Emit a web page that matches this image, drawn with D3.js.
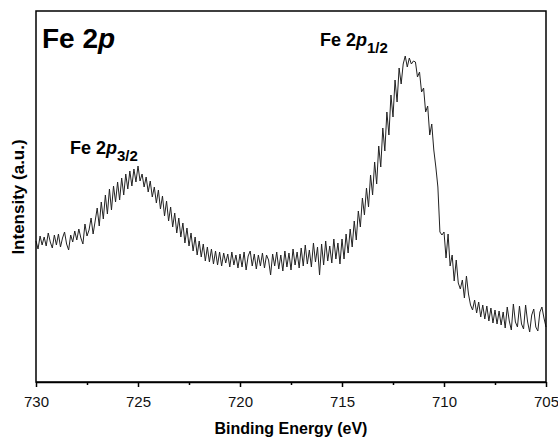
<!DOCTYPE html>
<html><head><meta charset="utf-8">
<script src="https://cdn.jsdelivr.net/npm/d3@7/dist/d3.min.js"></script>
<style>body{margin:0;background:#fff}svg{display:block;font-family:"Liberation Sans",Arial,sans-serif}</style>
</head><body>
<script>
const energies = [
730.0,729.9,729.8,729.7,729.6,729.5,729.4,729.3,729.2,729.1,
729.0,728.9,728.8,728.7,728.6,728.5,728.4,728.3,728.2,728.1,
728.0,727.9,727.8,727.7,727.6,727.5,727.4,727.3,727.2,727.1,
727.0,726.9,726.8,726.7,726.6,726.5,726.4,726.3,726.2,726.1,
726.0,725.9,725.8,725.7,725.6,725.5,725.4,725.3,725.2,725.1,
725.0,724.9,724.8,724.7,724.6,724.5,724.4,724.3,724.2,724.1,
724.0,723.9,723.8,723.7,723.6,723.5,723.4,723.3,723.2,723.1,
723.0,722.9,722.8,722.7,722.6,722.5,722.4,722.3,722.2,722.1,
722.0,721.9,721.8,721.7,721.6,721.5,721.4,721.3,721.2,721.1,
721.0,720.9,720.8,720.7,720.6,720.5,720.4,720.3,720.2,720.1,
720.0,719.9,719.8,719.7,719.6,719.5,719.4,719.3,719.2,719.1,
719.0,718.9,718.8,718.7,718.6,718.5,718.4,718.3,718.2,718.1,
718.0,717.9,717.8,717.7,717.6,717.5,717.4,717.3,717.2,717.1,
717.0,716.9,716.8,716.7,716.6,716.5,716.4,716.3,716.2,716.1,
716.0,715.9,715.8,715.7,715.6,715.5,715.4,715.3,715.2,715.1,
715.0,714.9,714.8,714.7,714.6,714.5,714.4,714.3,714.2,714.1,
714.0,713.9,713.8,713.7,713.6,713.5,713.4,713.3,713.2,713.1,
713.0,712.9,712.8,712.7,712.6,712.5,712.4,712.3,712.2,712.1,
712.0,711.9,711.8,711.7,711.6,711.5,711.4,711.3,711.2,711.1,
711.0,710.9,710.8,710.7,710.6,710.5,710.4,710.3,710.2,710.1,
710.0,709.9,709.8,709.7,709.6,709.5,709.4,709.3,709.2,709.1,
709.0,708.9,708.8,708.7,708.6,708.5,708.4,708.3,708.2,708.1,
708.0,707.9,707.8,707.7,707.6,707.5,707.4,707.3,707.2,707.1,
707.0,706.9,706.8,706.7,706.6,706.5,706.4,706.3,706.2,706.1,
706.0,705.9,705.8,705.7,705.6,705.5,705.4,705.3,705.2,705.1,
705.0];
const intensity = [
141,133,146,137,145,136,149,140,134,147,
137,148,135,144,150,138,132,147,140,151,
142,153,144,138,158,146,152,164,148,161,
174,156,180,163,187,168,193,172,196,180,
200,182,204,187,208,193,211,196,213,200,
216,201,208,195,205,190,201,185,195,179,
192,173,186,166,181,161,175,155,169,149,
164,145,159,139,154,136,149,131,145,127,
141,125,138,121,135,120,133,118,131,117,
130,116,129,119,128,115,130,117,127,114,
128,115,130,112,126,131,116,128,113,127,
116,129,114,127,122,107,128,116,130,113,
127,111,131,115,129,112,133,117,130,114,
134,116,137,118,132,115,139,120,135,107,
138,117,141,121,136,119,143,123,139,118,
143,123,148,129,153,135,161,142,171,155,
184,167,194,175,207,187,220,198,236,215,
254,231,270,247,287,265,302,280,314,298,
318,326,315,324,318,321,320,305,310,290,
294,270,276,247,258,232,215,195,150,147,
150,124,148,116,127,101,122,99,93,102,
84,106,88,77,72,82,69,80,65,77,
63,76,61,74,59,72,58,71,57,70,
54,75,61,52,78,60,55,76,58,53,
77,60,50,67,73,55,51,70,75,64,
55];
const xTicks = [730,725,720,715,710,705];
const xMinor = [727.5,722.5,717.5,712.5,707.5];

const W = 558, H = 437;
const m = {l:36, r:12, t:11, b:55};
const svg = d3.select("body").append("svg").attr("width",W).attr("height",H);
const x = d3.scaleLinear().domain([730,705]).range([m.l, W-m.r]);
const y = d3.scaleLinear().domain([0,371]).range([H-m.b, m.t]);
const data = energies.map((e,i)=>({e, v:intensity[i]}));

svg.append("path").datum(data)
  .attr("fill","none").attr("stroke","#222").attr("stroke-width",1)
  .attr("stroke-linejoin","round")
  .attr("d", d3.line().x(d=>x(d.e)).y(d=>y(d.v)));

svg.append("rect").attr("x",m.l).attr("y",m.t).attr("width",W-m.r-m.l).attr("height",H-m.b-m.t)
  .attr("fill","none").attr("stroke","#000").attr("stroke-width",1.5);

const gx = svg.append("g").attr("transform",`translate(0,${H-m.b})`);
gx.call(d3.axisBottom(x).tickValues(xTicks).tickSize(5).tickSizeOuter(0).tickFormat(d3.format("d")));
gx.select(".domain").attr("stroke-width",1.5);
gx.selectAll(".tick line").attr("stroke-width",1.5);
gx.selectAll("text").attr("font-size",15).attr("fill","#111").attr("y",10).attr("dy","1.0em");
const gm = svg.append("g").attr("transform",`translate(0,${H-m.b})`);
gm.call(d3.axisBottom(x).tickValues(xMinor).tickSize(3).tickFormat(""));
gm.select(".domain").remove();
gm.selectAll(".tick line").attr("stroke-width",1.5);

svg.append("text").attr("x",(m.l+W-m.r)/2).attr("y",434).attr("text-anchor","middle")
  .attr("font-size",16).attr("font-weight","bold").text("Binding Energy (eV)");
svg.append("text").attr("transform","translate(24,197) rotate(-90)").attr("text-anchor","middle")
  .attr("font-size",17).attr("font-weight","bold").text("Intensity (a.u.)");

const t = svg.append("text").attr("x",42).attr("y",48).attr("font-size",28).attr("font-weight","bold");
t.append("tspan").text("Fe 2");
t.append("tspan").attr("font-style","italic").text("p");

function peakLabel(px, py, sub){
  const tt = svg.append("text").attr("x",px).attr("y",py).attr("font-size",18).attr("font-weight","bold");
  tt.append("tspan").text("Fe 2");
  tt.append("tspan").attr("font-style","italic").text("p");
  tt.append("tspan").attr("font-size",15).attr("dy",7).text(sub);
}
peakLabel(70, 154, "3/2");
peakLabel(320, 46, "1/2");
</script>
</body></html>
